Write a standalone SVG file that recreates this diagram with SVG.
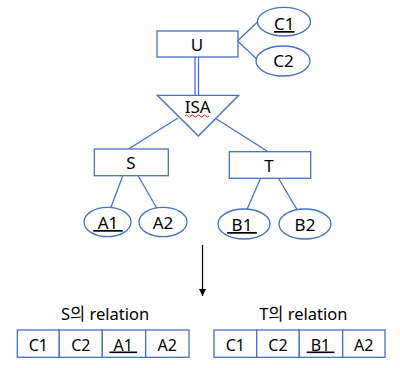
<svg xmlns="http://www.w3.org/2000/svg" width="400" height="368" viewBox="0 0 400 368">
<style>
.shape{fill:#fff;stroke:#4472C4;stroke-width:1.3}
.cell{fill:#fff;stroke:#4472C4;stroke-width:1.3}
.conn{fill:none;stroke:#4472C4;stroke-width:1.3}
.t{font-family:"Noto Sans","Noto Sans CJK KR",sans-serif;font-size:17px;fill:#000;text-anchor:middle}
.tb{font-family:"Noto Sans","Noto Sans CJK KR",sans-serif;font-size:16px;fill:#000;text-anchor:middle}
.tl{font-family:"Noto Sans","Noto Sans CJK KR",sans-serif;font-size:16.5px;fill:#000;text-anchor:middle}
.u{text-decoration:underline}
</style>
<defs>
<marker id="ah" markerWidth="8" markerHeight="8" refX="7" refY="4" orient="auto" markerUnits="userSpaceOnUse">
<path d="M0,0.5 L7,4 L0,7.5 Z" fill="#000"/>
</marker>
</defs>
<rect width="400" height="368" fill="#fff"/>
<g id="connectors">
<line class="conn" x1="237.5" y1="41" x2="258.5" y2="21"/>
<line class="conn" x1="237.5" y1="41" x2="260" y2="62"/>
<line class="conn" x1="195" y1="57" x2="195" y2="95"/>
<line class="conn" x1="198.5" y1="57" x2="198.5" y2="95"/>
<line class="conn" x1="178" y1="118" x2="128.5" y2="149"/>
<line class="conn" x1="215" y1="118" x2="268.5" y2="152"/>
<line class="conn" x1="122.7" y1="176" x2="110.7" y2="208"/>
<line class="conn" x1="138.3" y1="176" x2="156.7" y2="208"/>
<line class="conn" x1="260.7" y1="178" x2="246.7" y2="210"/>
<line class="conn" x1="278.3" y1="178" x2="297.3" y2="210"/>
<line x1="202.5" y1="245" x2="202.5" y2="296" stroke="#000" stroke-width="1.3" marker-end="url(#ah)"/>
</g>
<g id="U">
<rect class="shape" x="157" y="31" width="81" height="26"/>
<text class="t" x="197" y="51">U</text>
</g>
<g id="C1">
<ellipse class="shape" cx="284" cy="21.7" rx="26.5" ry="14.3"/>
<text class="t u" x="284.3" y="30">C1</text>
</g>
<g id="C2">
<ellipse class="shape" cx="283" cy="61" rx="27" ry="15"/>
<text class="t" x="283.5" y="67">C2</text>
</g>
<g id="ISA">
<polygon class="shape" points="157.3,95.3 238.7,95.3 198.3,136"/>
<text class="t" x="197.7" y="112.5">ISA</text>
<path d="M185,116 q1.5,-2 3,0 t3,0 t3,0 t3,0 t3,0 t3,0 t3,0 t3,0" fill="none" stroke="#e02020" stroke-width="1"/>
</g>
<g id="S">
<rect class="shape" x="94.3" y="149" width="74" height="26.7"/>
<text class="t" x="131" y="169">S</text>
</g>
<g id="T">
<rect class="shape" x="229.3" y="151.7" width="81.4" height="26.6"/>
<text class="t" x="269" y="172">T</text>
</g>
<g id="A1">
<ellipse class="shape" cx="107.5" cy="222" rx="23.5" ry="14.7"/>
<text class="t u" x="108" y="229" xml:space="preserve"> A1 </text>
</g>
<g id="A2">
<ellipse class="shape" cx="163" cy="222" rx="24" ry="14.7"/>
<text class="t" x="163" y="229">A2</text>
</g>
<g id="B1">
<ellipse class="shape" cx="244" cy="224" rx="26" ry="15"/>
<text class="t u" x="242" y="231" xml:space="preserve"> B1 </text>
</g>
<g id="B2">
<ellipse class="shape" cx="305" cy="224" rx="26" ry="15"/>
<text class="t" x="305" y="231">B2</text>
</g>
<g id="S_relation">
<text class="tl" x="105" y="319.5">S의 relation</text>
<rect class="cell" x="17.3" y="330" width="42" height="27.3"/>
<rect class="cell" x="59.3" y="330" width="43" height="27.3"/>
<rect class="cell" x="102.3" y="330" width="43.4" height="27.3"/>
<rect class="cell" x="145.7" y="330" width="43.3" height="27.3"/>
<text class="tb" x="38.3" y="350.5">C1</text>
<text class="tb" x="80.8" y="350.5">C2</text>
<text class="tb u" x="123.3" y="350.5" xml:space="preserve"> A1 </text>
<text class="tb" x="167.3" y="350.5">A2</text>
</g>
<g id="T_relation">
<text class="tl" x="303.3" y="319.5">T의 relation</text>
<rect class="cell" x="214" y="330" width="42.7" height="27.3"/>
<rect class="cell" x="256.7" y="330" width="42.6" height="27.3"/>
<rect class="cell" x="299.3" y="330" width="43.4" height="27.3"/>
<rect class="cell" x="342.7" y="330" width="42.3" height="27.3"/>
<text class="tb" x="235.3" y="350.5">C1</text>
<text class="tb" x="278" y="350.5">C2</text>
<text class="tb u" x="320.5" y="350.5" xml:space="preserve"> B1 </text>
<text class="tb" x="363.8" y="350.5">A2</text>
</g>
</svg>
